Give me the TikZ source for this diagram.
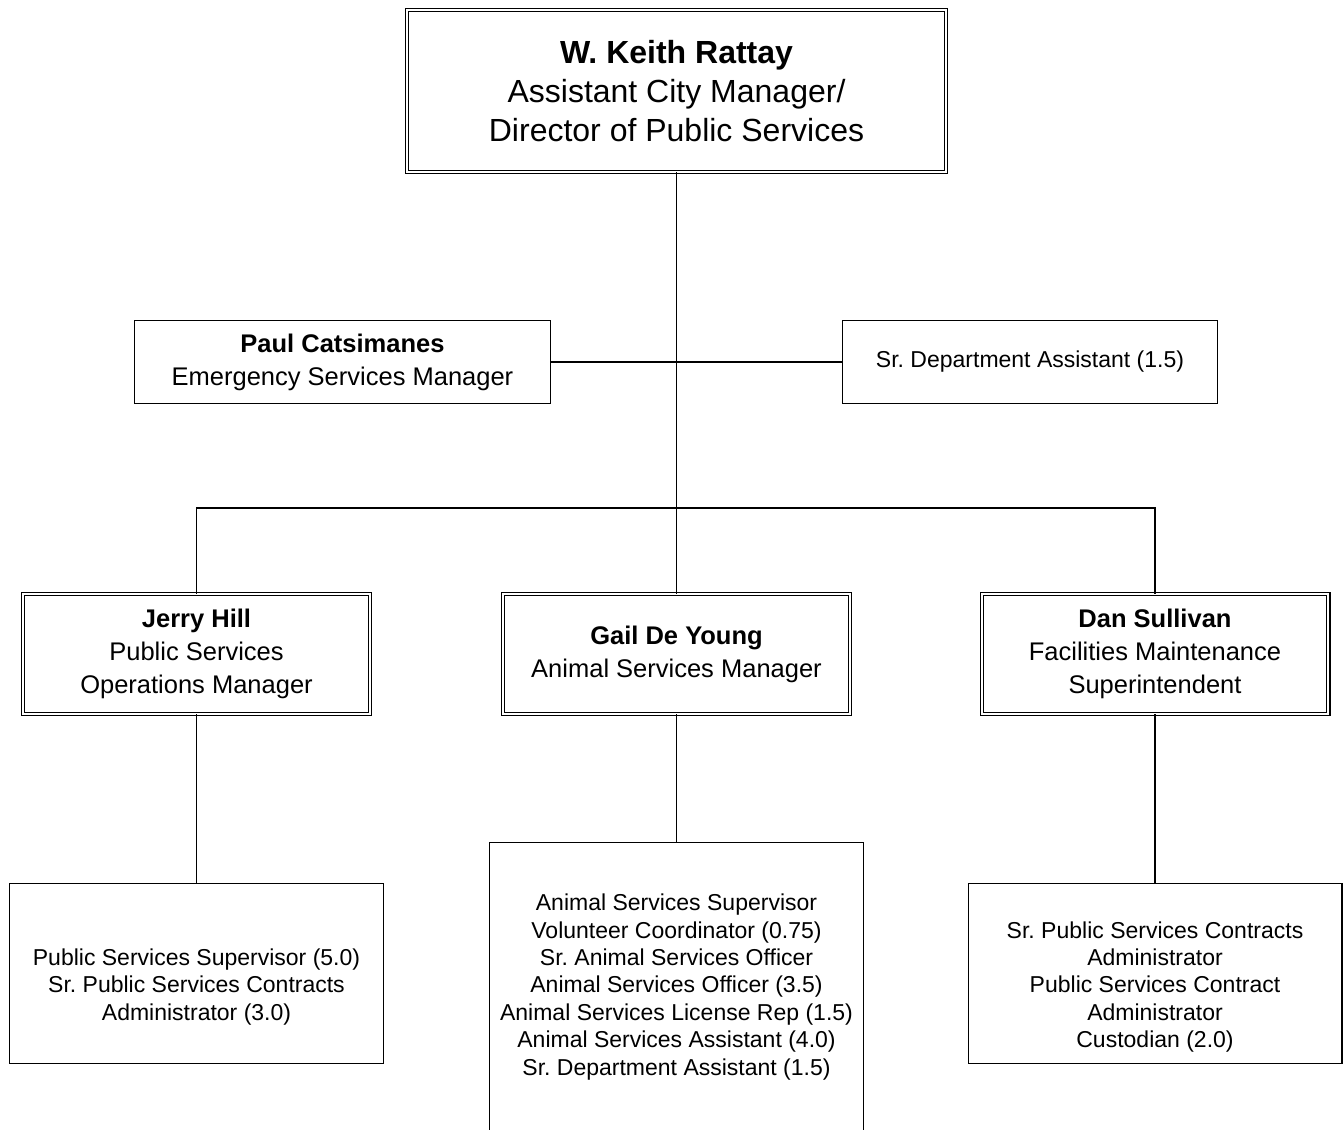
\documentclass[tikz,border=0pt]{standalone}
\usepackage{fontspec}
\setmainfont{Liberation Sans}
\begin{document}
\frenchspacing
\begin{tikzpicture}[x=1pt,y=-1pt,
  dbl/.style={draw, double, line width=1.1pt, double distance=2.2pt, inner sep=0pt},
  sgl/.style={draw, line width=1.4pt, inner sep=0pt},
  big/.style={font=\fontsize{32}{39}\selectfont, align=center},
  mid/.style={font=\fontsize{25.5}{33}\selectfont, align=center},
  sml/.style={font=\fontsize{23}{27.4}\selectfont, align=center},
  conn/.style={line width=1.6pt}]
\useasboundingbox (0,0) rectangle (1343,1129);
% boxes
\node[dbl, big, minimum width=538.6pt, minimum height=161.6pt] (top) at (676.5,91)
  {\textbf{W. Keith Rattay}\\Assistant City Manager/\\Director of Public Services};
\node[sgl, mid, minimum width=415.6pt, minimum height=82.6pt] (paul) at (342.5,362)
  {\textbf{Paul Catsimanes}\\Emergency Services Manager};
\node[sgl, sml, minimum width=374.6pt, minimum height=82.6pt] (sda) at (1030,362)
  {Sr. Department Assistant (1.5)};
\node[dbl, mid, minimum width=346.6pt, minimum height=119.6pt] (jerry) at (196.5,654)
  {\textbf{Jerry Hill}\\Public Services\\Operations Manager};
\node[dbl, mid, minimum width=346.6pt, minimum height=119.6pt] (gail) at (676.5,654)
  {\textbf{Gail De Young}\\Animal Services Manager};
\node[dbl, mid, minimum width=346.6pt, minimum height=119.6pt] (dan) at (1155,654)
  {\textbf{Dan Sullivan}\\Facilities Maintenance\\Superintendent};
\node[sgl, minimum width=373.6pt, minimum height=179.6pt] (jerrylow) at (196.5,973.5) {};
\node[sgl, minimum width=373.6pt, minimum height=288.6pt] (gaillow) at (676.5,987) {};
\node[sgl, minimum width=373.6pt, minimum height=179.6pt] (danlow) at (1155,973.5) {};
\node[sml] (jerrytxt) at (196.5,987)
  {Public Services Supervisor (5.0)\\Sr. Public Services Contracts\\Administrator (3.0)};
\node[sml] (gailtxt) at (676.5,987)
  {Animal Services Supervisor\\Volunteer Coordinator (0.75)\\Sr. Animal Services Officer\\Animal Services Officer (3.5)\\Animal Services License Rep (1.5)\\Animal Services Assistant (4.0)\\Sr. Department Assistant (1.5)};
\node[sml] (dantxt) at (1155,987)
  {Sr. Public Services Contracts\\Administrator\\Public Services Contract\\Administrator\\Custodian (2.0)};
% connectors
\coordinate (bus) at (676.5,508);
\draw[conn] (top.south) -- (gail.north);
\draw[conn] (paul.east) -- (sda.west);
\draw[conn] (jerry.north) |- (bus) -| (dan.north);
\draw[conn] (jerry.south) -- (jerrylow.north);
\draw[conn] (gail.south) -- (gaillow.north);
\draw[conn] (dan.south) -- (danlow.north);
\end{tikzpicture}
\end{document}
